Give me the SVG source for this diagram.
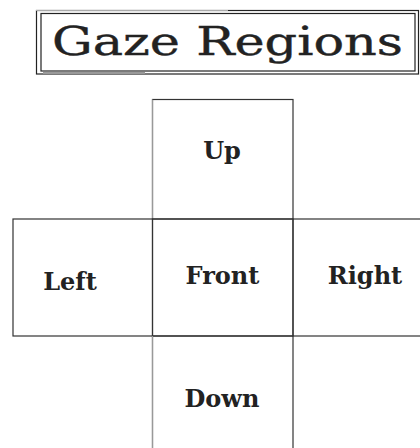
<svg xmlns="http://www.w3.org/2000/svg" width="420" height="448" viewBox="0 0 420 448">
<style>
.frame{fill:none;stroke:#222;stroke-width:1.2}
.cell{fill:none;stroke:#333;stroke-width:1.2}
.lbl{font-family:"DejaVu Serif","Liberation Serif",serif;font-weight:bold;font-size:24px;fill:#222;text-anchor:middle}
.title{font-family:"DejaVu Serif","Liberation Serif",serif;font-size:40px;fill:#222;stroke:#222;stroke-width:0.4}
</style>
<rect width="420" height="448" fill="#fff"/>
<g id="title">
<rect class="frame" x="36.5" y="10.5" width="382" height="63.5"/>
<rect class="frame" x="41" y="13.5" width="374" height="57.5"/>
<line x1="36" y1="10.5" x2="228" y2="10.5" stroke="#aaa" stroke-width="1.2"/>
<line x1="43" y1="73" x2="145" y2="73" stroke="#999" stroke-width="2"/>
<text class="title" x="52" y="55" textLength="351" lengthAdjust="spacingAndGlyphs">Gaze Regions</text>
</g>
<g id="up">
<rect class="cell" x="152.5" y="99.5" width="140.5" height="119.5"/>
<line x1="152.5" y1="99.5" x2="152.5" y2="219" stroke="#999" stroke-width="1.2"/>
<text class="lbl" x="222" y="159">Up</text>
</g>
<g id="left">
<rect class="cell" x="13" y="219" width="139.5" height="117"/>
<text class="lbl" x="70" y="290">Left</text>
</g>
<g id="front">
<rect class="cell" x="152.5" y="219" width="140.5" height="117"/>
<text class="lbl" x="222.5" y="284">Front</text>
</g>
<g id="right">
<rect class="cell" x="293" y="219" width="130" height="117"/>
<text class="lbl" x="365" y="284">Right</text>
</g>
<g id="down">
<rect class="cell" x="152.5" y="336" width="140.5" height="120"/>
<line x1="152.5" y1="336" x2="152.5" y2="448" stroke="#999" stroke-width="1.2"/>
<text class="lbl" x="222" y="407">Down</text>
</g>
<g id="connectors"></g>
</svg>
